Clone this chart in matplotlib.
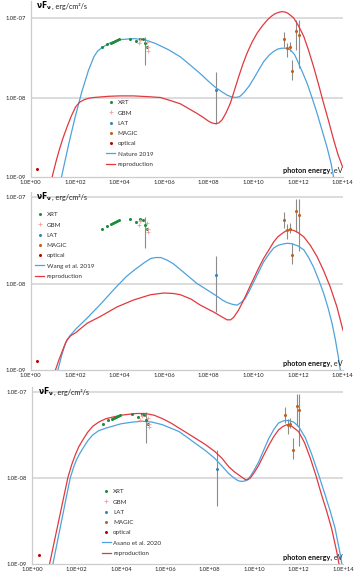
import numpy as np
import matplotlib
matplotlib.use("Agg")
from matplotlib import pyplot as plt
from matplotlib.lines import Line2D

plt.rcParams['font.family'] = ['Lato', 'DejaVu Sans']

# measured points, log10(E / eV) and log10(nuFnu / erg cm^-2 s^-1)
xrt_logE = [3.21, 3.44, 3.59, 3.69, 3.77, 3.86, 3.96, 4.48, 4.75, 4.93, 5.04, 5.13, 5.23]
xrt_logF = [-7.37, -7.33, -7.31, -7.30, -7.29, -7.28, -7.27, -7.26, -7.29, -7.26, -7.27, -7.32, -7.37]
gbm_logE = [4.86, 4.93, 5.22, 5.25, 5.27]
gbm_logF = [-7.32, -7.28, -7.30, -7.37, -7.41]
lat_logE = [8.33]
lat_logF = [-7.90]
magic_logE = [11.39, 11.51, 11.63, 11.73, 11.93, 12.03]
magic_logF = [-7.27, -7.38, -7.37, -7.67, -7.16, -7.21]
opt_logE = [0.30]
opt_logF = [-8.90]

# error bars (x, low, high)
err_logE = [5.13, 8.33, 11.39, 11.51, 11.63, 11.73, 11.93, 12.03]
err_lo = [-7.59, -8.33, -7.36, -7.49, -7.42, -7.78, -7.40, -7.63]
err_hi = [-7.235, -7.68, -7.17, -7.31, -7.30, -7.53, -7.02, -7.02]

# model curves
nat_logE = [1.39, 1.72, 2.00, 2.30, 2.60, 2.84, 3.00, 3.21, 3.59, 4.10, 4.63, 5.10, 5.60, 6.20, 6.73, 7.20, 7.62,
            8.00, 8.33, 8.60, 8.82, 9.00, 9.19, 9.38, 9.57, 9.80, 10.02, 10.25, 10.46, 10.70, 10.91, 11.10, 11.28,
            11.47, 11.66, 11.85, 12.03, 12.20, 12.41, 12.63, 12.86, 13.08, 13.30, 13.48, 13.60]
nat_logF = [-9.00, -8.58, -8.25, -7.93, -7.66, -7.49, -7.42, -7.37, -7.31, -7.27, -7.26, -7.27, -7.32, -7.40, -7.49,
            -7.60, -7.70, -7.80, -7.88, -7.93, -7.97, -7.99, -8.00, -7.99, -7.94, -7.86, -7.76, -7.65, -7.55, -7.47,
            -7.42, -7.39, -7.38, -7.38, -7.40, -7.46, -7.57, -7.68, -7.82, -8.00, -8.20, -8.41, -8.62, -8.82, -9.00]
rep1_logE = [0.97, 1.15, 1.30, 1.47, 1.64, 1.82, 2.02, 2.20, 2.39, 2.60, 2.84, 3.50, 4.00, 4.63, 5.30, 5.83, 6.30,
             6.73, 7.10, 7.47, 7.75, 8.00, 8.15, 8.30, 8.45, 8.60, 8.78, 8.97, 9.15, 9.34, 9.53, 9.72, 9.95, 10.17,
             10.40, 10.61, 10.80, 10.95, 11.12, 11.28, 11.42, 11.55, 11.68, 11.81, 12.03, 12.26, 12.48, 12.70,
             12.92, 13.15, 13.38, 13.60, 13.80, 14.00]
rep1_logF = [-9.00, -8.80, -8.65, -8.50, -8.37, -8.24, -8.12, -8.06, -8.03, -8.01, -8.00, -7.985, -7.98, -7.98,
             -7.99, -8.00, -8.04, -8.08, -8.14, -8.20, -8.25, -8.30, -8.32, -8.33, -8.32, -8.28, -8.19, -8.07, -7.91,
             -7.74, -7.58, -7.44, -7.30, -7.19, -7.10, -7.03, -6.98, -6.95, -6.93, -6.92, -6.925, -6.94, -6.97,
             -7.00, -7.10, -7.23, -7.41, -7.61, -7.83, -8.07, -8.30, -8.53, -8.72, -8.87]

wang_logE = [1.23, 1.40, 1.57, 1.75, 2.02, 2.54, 3.14, 3.81, 4.30, 4.63, 5.10, 5.40, 5.61, 5.85, 6.13, 6.40, 6.73,
             7.10, 7.47, 7.90, 8.33, 8.60, 8.82, 9.05, 9.27, 9.45, 9.64, 9.83, 10.02, 10.25, 10.46, 10.70, 10.91,
             11.10, 11.30, 11.52, 11.73, 12.00, 12.26, 12.48, 12.70, 12.92, 13.15, 13.35, 13.53, 13.68, 13.82, 13.90]
wang_logF = [-9.00, -8.83, -8.69, -8.61, -8.53, -8.40, -8.24, -8.05, -7.92, -7.85, -7.76, -7.71, -7.70, -7.70,
             -7.73, -7.77, -7.84, -7.92, -8.00, -8.07, -8.14, -8.19, -8.22, -8.24, -8.25, -8.22, -8.17, -8.08, -7.98,
             -7.86, -7.75, -7.66, -7.59, -7.56, -7.545, -7.535, -7.54, -7.565, -7.61, -7.70, -7.81, -7.95, -8.11,
             -8.28, -8.46, -8.65, -8.86, -9.00]
rep2_logE = [1.12, 1.28, 1.40, 1.52, 1.64, 1.82, 2.02, 2.54, 3.14, 3.89, 4.63, 5.38, 5.98, 6.40, 6.73, 7.20, 7.62,
             8.22, 8.55, 8.82, 8.98, 9.12, 9.33, 9.57, 9.80, 10.02, 10.24, 10.46, 10.70, 10.91, 11.10, 11.30, 11.47,
             11.63, 11.80, 12.00, 12.26, 12.56, 12.86, 13.15, 13.45, 13.75, 14.02]
rep2_logF = [-9.00, -8.88, -8.80, -8.72, -8.65, -8.60, -8.57, -8.46, -8.38, -8.27, -8.19, -8.13, -8.11, -8.115,
             -8.13, -8.18, -8.25, -8.33, -8.38, -8.42, -8.42, -8.39, -8.31, -8.19, -8.06, -7.94, -7.82, -7.71, -7.61,
             -7.52, -7.46, -7.42, -7.39, -7.38, -7.385, -7.41, -7.46, -7.56, -7.69, -7.85, -8.04, -8.27, -8.54]

asano_logE = [0.94, 1.33, 1.72, 1.88, 2.00, 2.14, 2.28, 2.50, 2.73, 3.00, 3.33, 4.00, 4.52, 4.97, 5.40, 5.87, 6.25,
              6.62, 7.00, 7.37, 7.80, 8.22, 8.55, 8.86, 9.05, 9.20, 9.33, 9.46, 9.65, 9.83, 10.02, 10.21, 10.44,
              10.66, 10.90, 11.10, 11.32, 11.55, 11.78, 12.00, 12.30, 12.60, 12.90, 13.20, 13.43, 13.64, 13.87, 13.95]
asano_logF = [-9.00, -8.50, -8.00, -7.87, -7.79, -7.72, -7.66, -7.57, -7.50, -7.45, -7.42, -7.37, -7.35, -7.34,
              -7.35, -7.38, -7.42, -7.46, -7.53, -7.60, -7.68, -7.77, -7.86, -7.95, -7.99, -8.02, -8.035, -8.04,
              -8.03, -7.98, -7.90, -7.81, -7.67, -7.54, -7.43, -7.36, -7.335, -7.33, -7.35, -7.40, -7.53, -7.73,
              -7.96, -8.20, -8.39, -8.58, -8.88, -9.00]
rep3_logE = [0.79, 1.20, 1.61, 1.78, 1.95, 2.10, 2.28, 2.50, 2.73, 3.00, 3.33, 4.00, 4.68, 5.10, 5.50, 5.87, 6.25,
             6.62, 7.00, 7.37, 7.80, 8.22, 8.55, 8.86, 9.12, 9.39, 9.61, 9.72, 9.83, 10.02, 10.21, 10.44, 10.66,
             10.88, 11.10, 11.30, 11.48, 11.70, 12.00, 12.27, 12.53, 12.78, 13.04, 13.27, 13.49, 13.72, 13.82]
rep3_logF = [-9.00, -8.50, -8.00, -7.85, -7.73, -7.64, -7.56, -7.47, -7.40, -7.35, -7.31, -7.27, -7.25, -7.25,
             -7.27, -7.31, -7.36, -7.42, -7.48, -7.54, -7.61, -7.69, -7.77, -7.87, -7.93, -7.98, -8.02, -8.02, -8.00,
             -7.93, -7.85, -7.73, -7.62, -7.52, -7.44, -7.40, -7.38, -7.40, -7.46, -7.59, -7.77, -7.97, -8.20, -8.39,
             -8.59, -8.86, -9.00]

x_ticks = [0, 2, 4, 6, 8, 10, 12, 14]
y_ticks = [-9, -8, -7]

c_blue = '#4ea3dc'
c_red = '#e0393e'
W, H = 357, 578

fig = plt.figure(figsize=(W / 100, H / 100), dpi=100)


def panel(left, right, top, bottom, ytop, model_E, model_F, model_name, rep_E, rep_F, leg_xy):
    ax = fig.add_axes([left / W, 1 - bottom / H, (right - left) / W, (bottom - top) / H])
    ax.set_xscale('log')
    ax.set_yscale('log')
    ax.set_xlim(1, 1e14)
    ax.set_ylim(1e-9, ytop)
    ax.set_xticks([10.0 ** t for t in x_ticks])
    ax.set_xticklabels(['1.0E+%02d' % t for t in x_ticks])
    ax.set_yticks([10.0 ** t for t in y_ticks])
    ax.set_yticklabels(['1.0E-%02d' % -t for t in y_ticks])
    ax.minorticks_off()
    ax.tick_params(length=0, labelsize=4.2, colors='#222222')
    ax.tick_params(axis='x', pad=2.5)
    ax.tick_params(axis='y', pad=3.5)
    for s in ['top', 'right']:
        ax.spines[s].set_visible(False)
    for s in ['left', 'bottom']:
        ax.spines[s].set_color('#cccccc')
        ax.spines[s].set_linewidth(0.9)
    for g in [1e-8, 1e-7]:
        ax.axhline(g, color='#d9d9d9', lw=1.3, zorder=0)

    ax.vlines(10.0 ** np.array(err_logE), 10.0 ** np.array(err_lo), 10.0 ** np.array(err_hi),
              color='#8c8c8c', lw=0.8, zorder=2)
    ax.plot(10.0 ** np.array(xrt_logE), 10.0 ** np.array(xrt_logF), 'o', ms=2.2, color='#1e8c3c', mew=0, zorder=4)
    ax.plot(10.0 ** np.array(gbm_logE), 10.0 ** np.array(gbm_logF), '+', ms=3, mew=0.6, color='#f0a0a0', zorder=4)
    ax.plot(10.0 ** np.array(lat_logE), 10.0 ** np.array(lat_logF), 'o', ms=2.2, color='#2e86c1', mew=0, zorder=4)
    ax.plot(10.0 ** np.array(magic_logE), 10.0 ** np.array(magic_logF), 'o', ms=2.2, color='#c0601a', mew=0, zorder=4)
    ax.plot(10.0 ** np.array(opt_logE), 10.0 ** np.array(opt_logF), 'o', ms=2.2, color='#c00000', mew=0, zorder=4)
    ax.plot(10.0 ** np.array(model_E), 10.0 ** np.array(model_F), color=c_blue, lw=0.9, zorder=3)
    ax.plot(10.0 ** np.array(rep_E), 10.0 ** np.array(rep_F), color=c_red, lw=0.9, zorder=3)

    handles = [
        Line2D([], [], ls='none', marker='o', ms=2.2, mew=0, color='#1e8c3c'),
        Line2D([], [], ls='none', marker='+', ms=3, mew=0.6, color='#f0a0a0'),
        Line2D([], [], ls='none', marker='o', ms=2.2, mew=0, color='#2e86c1'),
        Line2D([], [], ls='none', marker='o', ms=2.2, mew=0, color='#c0601a'),
        Line2D([], [], ls='none', marker='o', ms=2.2, mew=0, color='#c00000'),
        Line2D([], [], color=c_blue, lw=0.9),
        Line2D([], [], color=c_red, lw=0.9),
    ]
    labels = ['XRT', 'GBM', 'LAT', 'MAGIC', 'optical', model_name, 'reproduction']
    leg = ax.legend(handles, labels, loc='upper left', bbox_to_anchor=(leg_xy[0] / W, 1 - leg_xy[1] / H),
                    bbox_transform=fig.transFigure, frameon=False, fontsize=4.5, borderpad=0, borderaxespad=0,
                    handlelength=1.45, handletextpad=0.4, labelspacing=0.78)
    for t in leg.get_texts():
        t.set_color('#333333')

    t1 = fig.text((left + 6) / W, 1 - (top + 5) / H, r'$\mathbf{\nu F_{\nu}}$', fontsize=5.5,
                  fontweight='bold', va='center', ha='left')
    ax.annotate(', erg/cm\u00b2/s', xy=(1, 0.5), xycoords=t1, va='center', ha='left', fontsize=5.2,
                color='#222222')
    t2 = fig.text(right / W, 1 - (bottom - 7) / H, ' eV', fontsize=5.2, va='center', ha='right', color='#222222')
    ax.annotate('photon energy,', xy=(0, 0.5), xycoords=t2, va='center', ha='right', fontsize=5.2,
                fontweight='bold', color='#111111')
    return ax


panel(30.5, 342.5, 1, 177, 10 ** (-9 + 176 / 79.5), nat_logE, nat_logF, 'Nature 2019', rep1_logE, rep1_logF,
      (106, 100))
panel(30.5, 342.5, 192, 370, 10 ** (-9 + 178 / 86.5), wang_logE, wang_logF, 'Wang et al. 2019', rep2_logE,
      rep2_logF, (35, 212))
panel(32, 343, 387, 564, 10 ** (-9 + 177 / 86), asano_logE, asano_logF, 'Asano et al. 2020', rep3_logE,
      rep3_logF, (101.5, 489))

fig.savefig('out.png', dpi=100)
